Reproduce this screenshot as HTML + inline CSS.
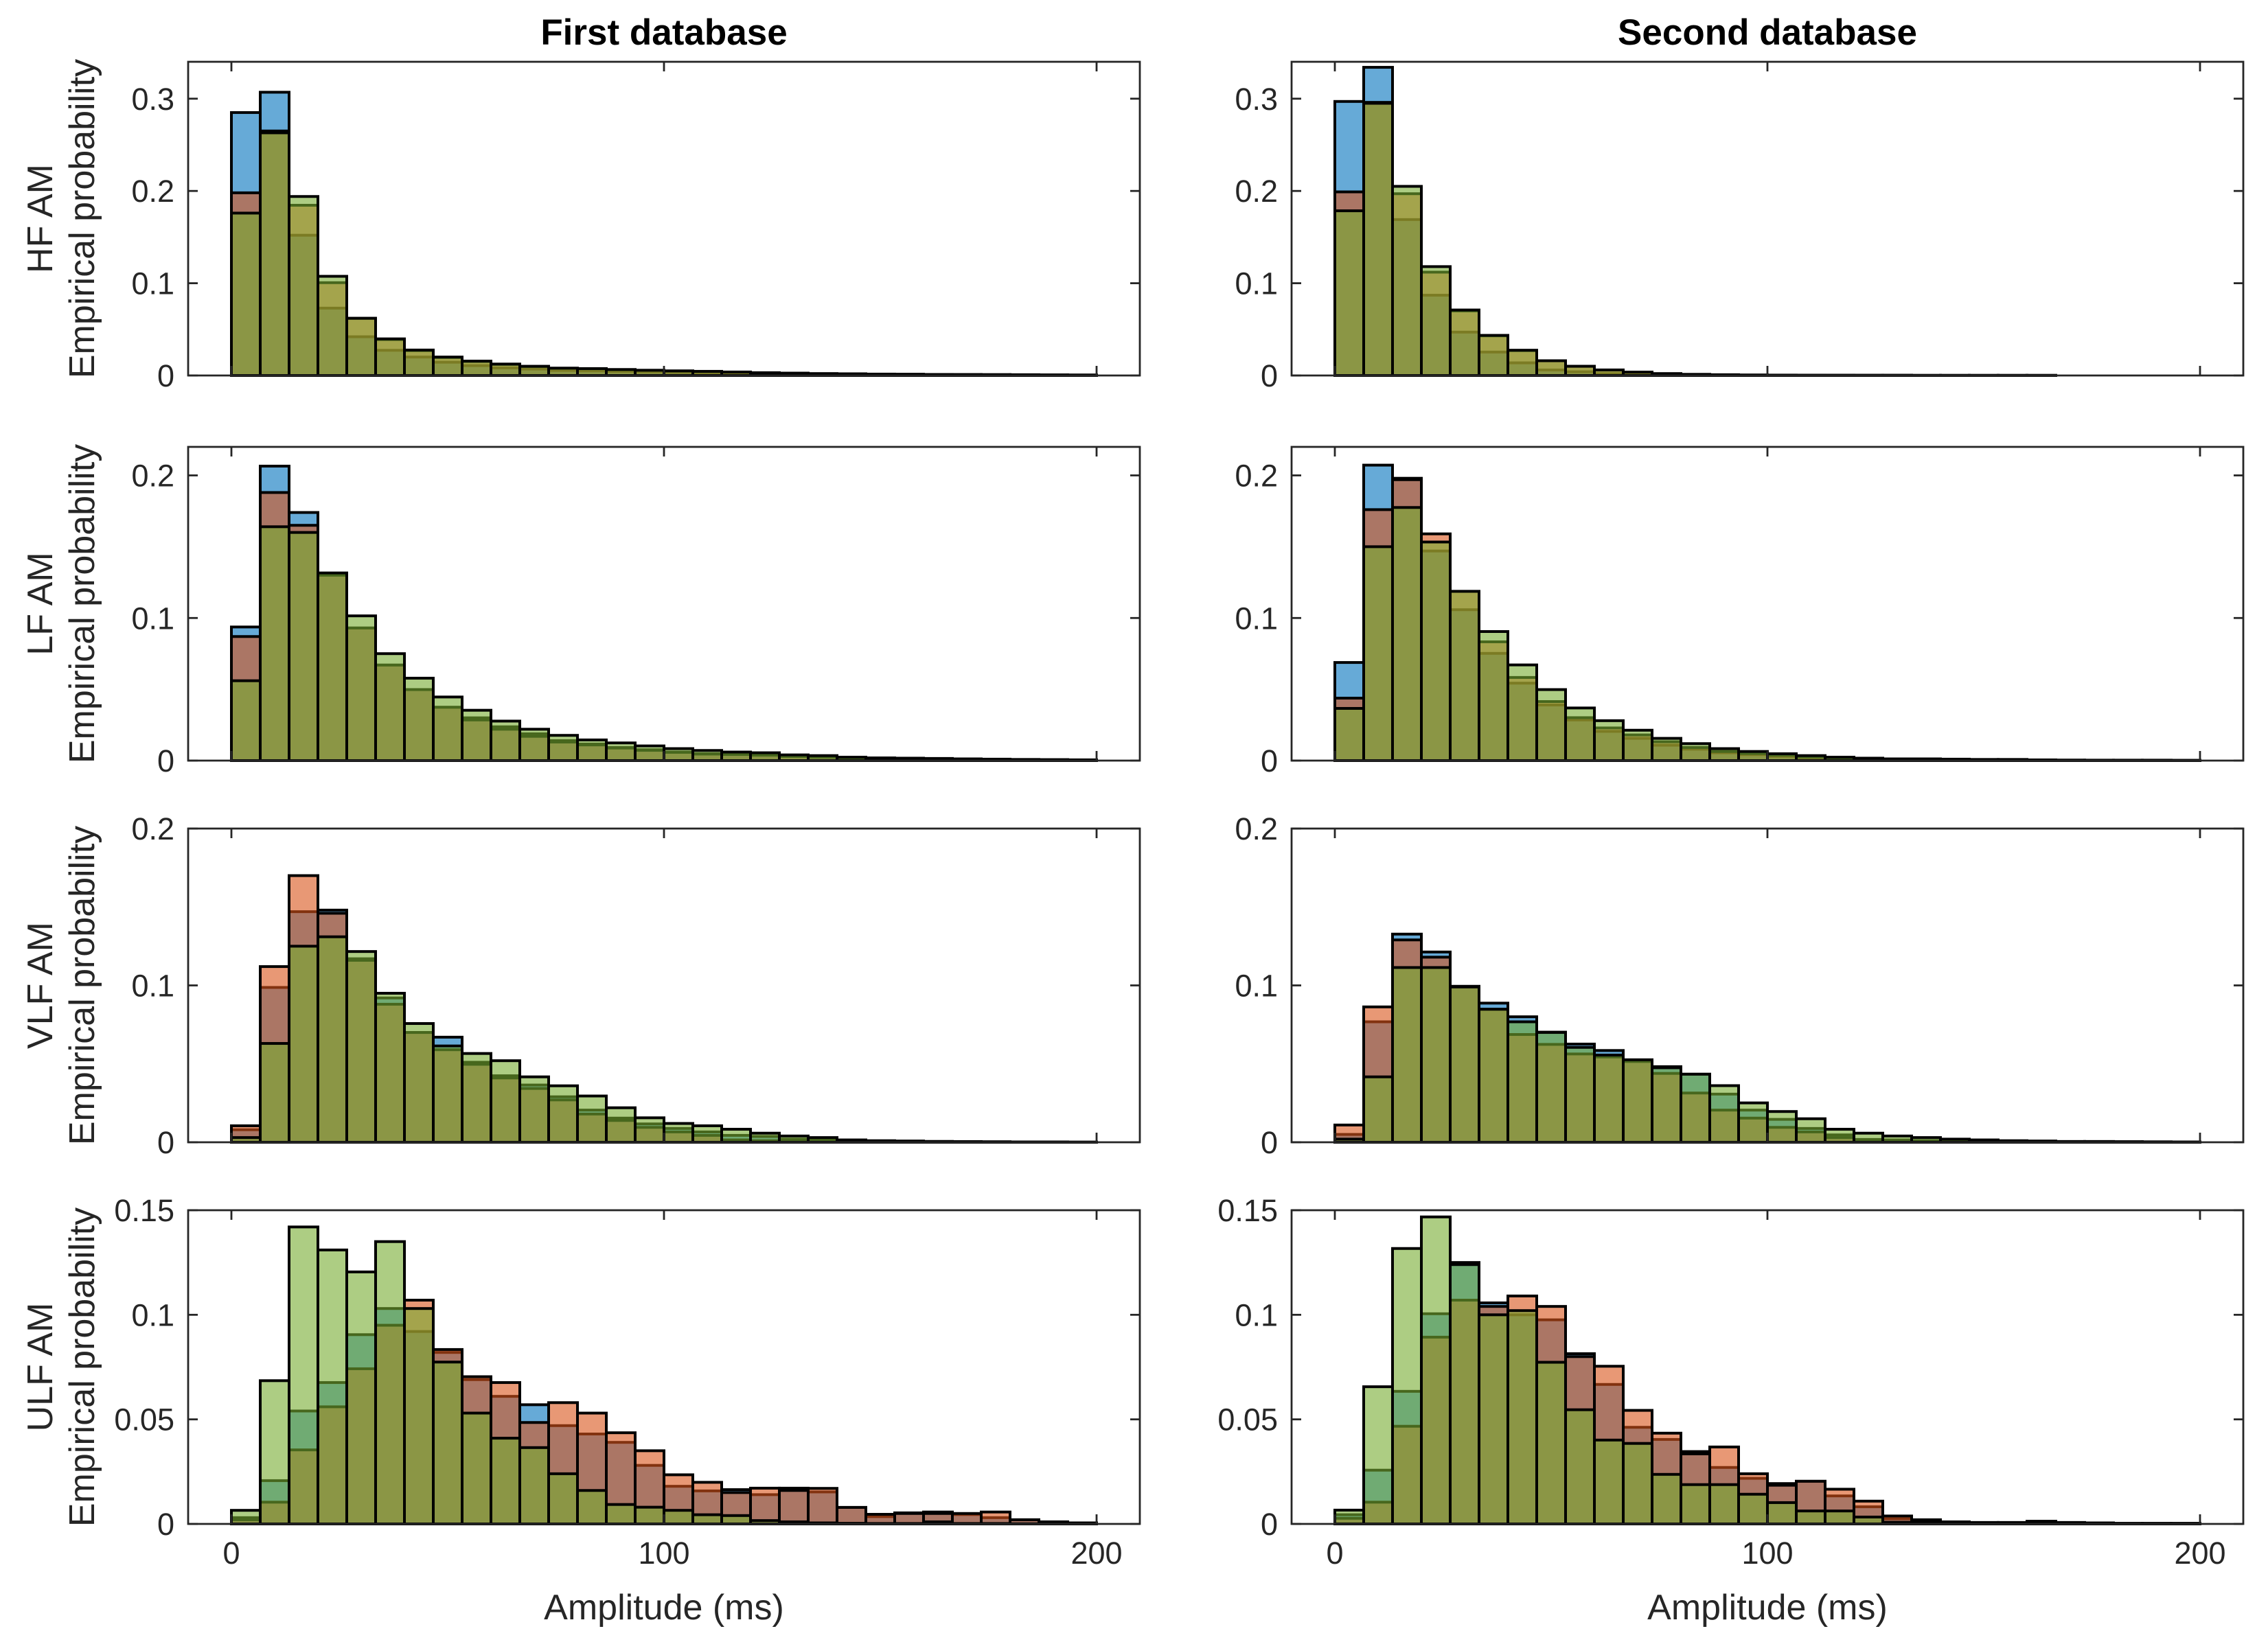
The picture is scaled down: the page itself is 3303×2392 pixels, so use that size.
<!DOCTYPE html>
<html><head><meta charset="utf-8"><style>
html,body{margin:0;padding:0;background:#fff;}
svg{display:block;font-family:"Liberation Sans",Arial,sans-serif;}
</style></head><body>
<svg id="fig" width="3303" height="2392" viewBox="0 0 3303 2392" xmlns="http://www.w3.org/2000/svg">
<rect x="0" y="0" width="3303" height="2392" fill="#fff"/>
<text x="967" y="65" font-size="53" font-weight="bold" text-anchor="middle" fill="#000">First database</text>
<text x="2574" y="65" font-size="53" font-weight="bold" text-anchor="middle" fill="#000">Second database</text>
</svg>
<script>
// bin edges: 30 bins of width 200/30
const binCount = 30;
const binMax = 200;
const rowNames = ["HF AM", "LF AM", "VLF AM", "ULF AM"];
const rowYMax = [0.34, 0.22, 0.2, 0.15];
const rowYTicks = [[0,0.1,0.2,0.3],[0,0.1,0.2],[0,0.1,0.2],[0,0.05,0.1,0.15]];
const rowYTickLabels = [["0","0.1","0.2","0.3"],["0","0.1","0.2"],["0","0.1","0.2"],["0","0.05","0.1","0.15"]];
const xTicks = [0,100,200];
const xTickLabels = ["0","100","200"];

// HF first database
const hf1Blue = [.285,.307,.152,.073,.042,.0273,.020,.0144,.0107,.0082,.007,.0055,.005,.0045,.004,.0035,.003,.0025,.002,.0018,.0015,.0013,.0011,.001,.0009,.0008,.0007,.0006,.0005,.0004];
const hf1Orange = [.198,.265,.1845,.1006,.062,.039,.027,.0195,.0152,.012,.0097,.0078,.0073,.0063,.0056,.0049,.0044,.0037,.003,.0025,.002,.0018,.0015,.0013,.0011,.001,.0009,.0008,.0006,.0005];
const hf1Green = [.176,.263,.194,.1075,.062,.0397,.0276,.020,.0156,.0124,.01,.008,.0075,.0065,.0057,.005,.0045,.0038,.003,.0025,.002,.0018,.0015,.0013,.0011,.001,.0009,.0008,.0006,.0005];
// HF second database
const hf2Blue = [.297,.334,.169,.087,.047,.0254,.0137,.006,.004,.002,.001,.0008,.0006,.0005,.0004,.0003,.0003,.0002,.0002,.0002,.0001,.0001,.0001,.0001,.0001,0,0,0,0,0];
const hf2Orange = [.199,.296,.197,.112,.07,.043,.027,.016,.01,.006,.0037,.002,.0012,.0008,.0005,.0004,.0003,.0003,.0002,.0002,.0001,.0001,.0001,.0001,.0001,0,0,0,0,0];
const hf2Green = [.1785,.295,.205,.118,.071,.0435,.0274,.016,.01,.006,.0037,.002,.0012,.0008,.0005,.0004,.0003,.0003,.0002,.0002,.0001,.0001,.0001,.0001,.0001,0,0,0,0,0];
// LF first database
const lf1Blue = [.0937,.2065,.174,.130,.093,.067,.0498,.0374,.030,.0237,.0188,.014,.0116,.0092,.0076,.006,.0048,.0045,.004,.003,.0025,.0018,.0015,.0013,.0011,.001,.0008,.0007,.0006,.0005];
const lf1Orange = [.087,.188,.165,.130,.093,.067,.0498,.0374,.0285,.022,.017,.013,.011,.0088,.0072,.0058,.0046,.0043,.0038,.0029,.0024,.0017,.0014,.0012,.001,.0009,.0008,.0007,.0006,.0005];
const lf1Green = [.056,.164,.160,.1316,.1015,.075,.0578,.0446,.0353,.0277,.022,.0177,.0145,.0124,.0103,.0084,.0071,.006,.0055,.004,.0035,.0024,.0019,.0017,.0015,.0012,.001,.0008,.0006,.0005];
// LF second database
const lf2Blue = [.0688,.2072,.198,.147,.1058,.0752,.0543,.039,.0285,.0205,.0156,.0108,.008,.0055,.0042,.003,.002,.0018,.0015,.001,.0009,.0008,.0006,.0005,.0004,.0003,.0002,.0002,.0002,.0001];
const lf2Orange = [.0438,.176,.197,.159,.1187,.0833,.0583,.0414,.0301,.0229,.018,.0132,.0092,.0064,.005,.0038,.0025,.0018,.0015,.001,.0009,.0008,.0006,.0005,.0004,.0003,.0002,.0002,.0002,.0001];
const lf2Green = [.0366,.150,.1775,.1533,.1187,.0905,.0671,.0498,.0369,.028,.0213,.0156,.0119,.0084,.0064,.0048,.0035,.0024,.0017,.0012,.0012,.001,.0008,.0008,.0005,.0003,.0003,.0003,.0003,.0002];
// VLF first database
const vlf1Blue = [.008,.0987,.147,.148,.117,.092,.070,.067,.051,.0424,.0365,.029,.0205,.0154,.0117,.0088,.0066,.0044,.0037,.002,.0015,.001,.0008,.0006,.0005,.0004,.0003,.0002,.0002,.0001];
const vlf1Orange = [.0105,.112,.170,.146,.116,.088,.070,.059,.0497,.041,.0343,.027,.018,.0139,.0095,.0066,.0044,.0015,.001,.0005,.0003,.0003,.0002,.0002,.0001,.0001,.0001,0,0,0];
const vlf1Green = [.003,.063,.125,.131,.1216,.095,.0757,.0614,.0566,.052,.0417,.036,.0295,.022,.0156,.012,.0105,.0083,.0058,.004,.003,.0015,.001,.0008,.0005,.0004,.0003,.0002,.0002,.0001];
// VLF second database
const vlf2Blue = [.005,.0768,.1327,.1213,.0994,.0887,.080,.0702,.0626,.0585,.052,.0482,.0434,.0307,.0205,.0146,.0088,.0047,.0018,.0015,.001,.0008,.0006,.0005,.0004,.0003,.0003,.0002,.0002,.0001];
const vlf2Orange = [.011,.0863,.129,.118,.0994,.0848,.0687,.0624,.0563,.0544,.0515,.0439,.0314,.0205,.0154,.0095,.0066,.003,.0015,.001,.0008,.0006,.0005,.0004,.0003,.0002,.0002,.0001,.0001,.0001];
const vlf2Green = [.002,.0417,.1114,.1114,.099,.0848,.0768,.070,.0605,.0556,.0526,.0475,.0434,.0361,.0251,.0196,.015,.0083,.0058,.004,.003,.002,.0015,.001,.0008,.0005,.0005,.0004,.0003,.0002];
// ULF first database
const ulf1Blue = [.003,.0207,.054,.0676,.0905,.103,.092,.082,.069,.061,.057,.047,.043,.039,.028,.018,.0158,.0164,.014,.0171,.0153,.0079,.0035,.0053,.0057,.0045,.003,.002,.001,.0005];
const ulf1Orange = [.002,.0104,.0354,.056,.0742,.095,.107,.0834,.0704,.0676,.0485,.058,.053,.0436,.035,.0235,.0199,.015,.0171,.016,.017,.0079,.0046,.005,.005,.005,.0057,.002,.001,.0005];
const ulf1Green = [.0065,.0685,.142,.131,.1205,.135,.103,.0774,.053,.041,.0365,.024,.016,.0093,.008,.0065,.0044,.004,.0016,.001,.0005,.0003,.0002,.0002,.001,.0002,.0002,.0001,0,0];
// ULF second database
const ulf2Blue = [.0044,.0257,.0634,.1005,.125,.1057,.100,.0976,.0814,.0667,.0462,.0404,.0346,.027,.0218,.0193,.0204,.0134,.0082,.0025,.002,.001,.0007,.0007,.0013,.0007,.0005,.0003,.0003,.0003];
const ulf2Orange = [.0027,.0104,.0467,.0893,.107,.104,.109,.104,.080,.0754,.0543,.0434,.0335,.0368,.024,.0185,.0204,.0166,.0109,.0038,.0015,.0008,.0005,.0005,.0008,.0005,.0003,.0002,.0002,.0002];
const ulf2Green = [.0066,.0656,.1317,.1468,.124,.100,.102,.0773,.0546,.0401,.0385,.0237,.0188,.0188,.0142,.0102,.0062,.0062,.0033,.0008,.0005,.0003,.0002,.0002,.0002,.0001,.0001,.0001,0,0];

const panelSeries = [
  [[hf1Blue,hf1Orange,hf1Green],[hf2Blue,hf2Orange,hf2Green]],
  [[lf1Blue,lf1Orange,lf1Green],[lf2Blue,lf2Orange,lf2Green]],
  [[vlf1Blue,vlf1Orange,vlf1Green],[vlf2Blue,vlf2Orange,vlf2Green]],
  [[ulf1Blue,ulf1Orange,ulf1Green],[ulf2Blue,ulf2Orange,ulf2Green]]
];
const seriesNames = ["series-1","series-2","series-3"];
const colors = ["#0072BD","#D95319","#77AC30"];

const NS = "http://www.w3.org/2000/svg";
const svg = document.getElementById("fig");
const colLeft = [274, 1881];
const axW = 1386;
const rowTop = [90, 651, 1207, 1763];
const axH = 457;
const xMin = -10, xMax = 210;
function mk(tag, attrs, parent){
  const e = document.createElementNS(NS, tag);
  for (const k in attrs) e.setAttribute(k, attrs[k]);
  (parent||svg).appendChild(e);
  return e;
}
for (let r = 0; r < 4; r++) {
  for (let c = 0; c < 2; c++) {
    const L = colLeft[c], T = rowTop[r], B = T + axH, R = L + axW;
    const xs = v => L + (v - xMin) / (xMax - xMin) * axW;
    const ys = v => B - v / rowYMax[r] * axH;
    const g = mk("g", {});
    
    
    const bw = binMax / binCount;
    panelSeries[r][c].forEach((vals, s) => {
      const sg = mk("g", {}, g);
      
      
      vals.forEach((v, i) => {
        const x0 = xs(i * bw), x1 = xs((i + 1) * bw);
        const rect = mk("rect", {x: x0, y: ys(v), width: x1 - x0, height: B - ys(v),
          fill: colors[s], "fill-opacity": 0.6, stroke: "#000", "stroke-width": 4}, sg);
        
        
      });
    });
    const box = mk("rect", {x: L, y: T, width: axW, height: axH, fill: "none", stroke: "#262626", "stroke-width": 2.8}, g);
    
    
    xTicks.forEach((t, i) => {
      const x = xs(t);
      mk("line", {x1: x, y1: B, x2: x, y2: B - 14, stroke: "#262626", "stroke-width": 2.8}, g);
      mk("line", {x1: x, y1: T, x2: x, y2: T + 14, stroke: "#262626", "stroke-width": 2.8}, g);
      if (r === 3) {
        const tl = mk("text", {x: x, y: B + 58, "font-size": 45, "text-anchor": "middle", fill: "#262626"}, g);
        tl.textContent = xTickLabels[i];
        
        
      }
    });
    rowYTicks[r].forEach((t, i) => {
      const y = ys(t);
      mk("line", {x1: L, y1: y, x2: L + 14, y2: y, stroke: "#262626", "stroke-width": 2.8}, g);
      mk("line", {x1: R, y1: y, x2: R - 14, y2: y, stroke: "#262626", "stroke-width": 2.8}, g);
      const tl = mk("text", {x: L - 20, y: y + 16, "font-size": 45, "text-anchor": "end", fill: "#262626"}, g);
      tl.textContent = rowYTickLabels[r][i];
      
      
    });
    if (r === 3) {
      const xl = mk("text", {x: L + axW / 2, y: 2359, "font-size": 52, "text-anchor": "middle", fill: "#262626"}, g);
      xl.textContent = "Amplitude (ms)";
      
      
    }
    if (c === 0) {
      const cy = T + axH / 2;
      const yl = mk("text", {x: 0, y: 0, "font-size": 52, "text-anchor": "middle", fill: "#262626",
        transform: "translate(76," + cy + ") rotate(-90)"}, g);
      yl.textContent = rowNames[r];
      
      
      const yl2 = mk("text", {x: 0, y: 0, "font-size": 52, "text-anchor": "middle", fill: "#262626",
        transform: "translate(137," + cy + ") rotate(-90)"}, g);
      yl2.textContent = "Empirical probability";
      
      
    }
  }
}
</script>
</body></html>
